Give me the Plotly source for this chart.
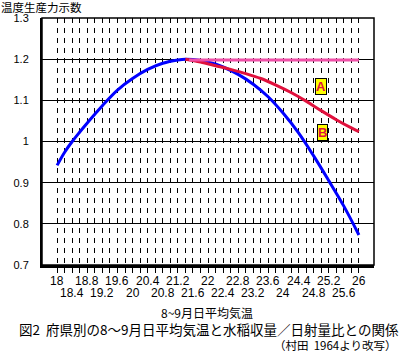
import plotly.graph_objects as go

# ---- data ----
blue_x = [18.0, 18.2, 18.4, 18.6, 18.8, 19.0, 19.2, 19.6, 20.0, 20.4, 20.8, 21.2, 21.4, 21.6,
          22.0, 22.4, 22.8, 23.2, 23.6, 24.0, 24.4, 24.8, 25.2, 25.6, 26.0]
blue_y = [0.942, 0.974, 1.000, 1.023, 1.045, 1.066, 1.087, 1.125, 1.153, 1.175, 1.190, 1.198, 1.200, 1.199,
          1.193, 1.181, 1.163, 1.139, 1.108, 1.068, 1.021, 0.965, 0.905, 0.843, 0.773]

red_x = [21.4, 21.8, 22.2, 22.6, 23.0, 23.4, 23.8, 24.2, 24.6, 25.0, 25.4, 25.8, 26.0]
red_y = [1.200, 1.193, 1.184, 1.175, 1.165, 1.153, 1.137, 1.119, 1.098, 1.075, 1.053, 1.033, 1.024]

pink_x = [21.5, 26.0]
pink_y = [1.198, 1.198]

label_A = ("A", 25.0, 1.134)
label_B = ("B", 25.03, 1.022)

grid_x = [round(18 + 0.2 * i, 1) for i in range(41)]
row1_labels = ["18", "18.8", "19.6", "20.4", "21.2", "22", "22.8", "23.6", "24.4", "25.2", "26"]
row2_labels = ["18.4", "19.2", "20", "20.8", "21.6", "22.4", "23.2", "24", "24.8", "25.6"]
y_ticks = [0.7, 0.8, 0.9, 1.0, 1.1, 1.2, 1.3]
y_ticktext = ["0.7", "0.8", "0.9", "1", "1.1", "1.2", "1.3"]

y_title = "温度生産力示数"
x_title = "8~9月日平均気温"
caption = "図2  府県別の8～9月日平均気温と水稲収量／日射量比との関係"
source = "（村田  1964より改写）"

JP = "Noto Sans CJK JP"
NUM = "Liberation Sans"

fig = go.Figure()
fig.add_trace(go.Scatter(x=blue_x, y=blue_y, mode="lines", line=dict(color="#0000FF", width=3), line_shape="spline"))
fig.add_trace(go.Scatter(x=red_x, y=red_y, mode="lines", line=dict(color="#E0103C", width=3), line_shape="spline"))
fig.add_trace(go.Scatter(x=pink_x, y=pink_y, mode="lines", line=dict(color="#F050A8", width=3)))

ann = []
for t in row1_labels:
    ann.append(dict(x=float(t), y=0, xref="x", yref="paper", text=t, showarrow=False,
                    yanchor="middle", yshift=-16, borderpad=0,
                    font=dict(family=NUM, size=12, color="black")))
for t in row2_labels:
    ann.append(dict(x=float(t), y=0, xref="x", yref="paper", text=t, showarrow=False,
                    yanchor="middle", yshift=-27.5, borderpad=0,
                    font=dict(family=NUM, size=12, color="black")))
for txt, lx, ly in (label_A, label_B):
    ann.append(dict(x=lx, y=ly, xref="x", yref="y", text="<b>" + txt + "</b>", showarrow=False,
                    bgcolor="#FFFF00", bordercolor="black", borderwidth=1, borderpad=0,
                    font=dict(family=NUM, size=13, color="#E0103C")))
ann.append(dict(x=0, y=1, xref="paper", yref="paper", text=y_title, showarrow=False,
                xanchor="left", yanchor="middle", xshift=-42, yshift=11.5, borderpad=0,
                font=dict(family=JP, size=11.5, color="black")))
ann.append(dict(x=0.497, y=0, xref="paper", yref="paper", text=x_title, showarrow=False,
                xanchor="center", yanchor="middle", yshift=-47.5, borderpad=0,
                font=dict(family=JP, size=12, color="black")))
ann.append(dict(x=0, y=0, xref="paper", yref="paper", text=caption, showarrow=False,
                xanchor="left", yanchor="middle", xshift=-24, yshift=-63.5, borderpad=0,
                font=dict(family=JP, size=13.5, color="black")))
ann.append(dict(x=0, y=0, xref="paper", yref="paper", text=source, showarrow=False,
                xanchor="left", yanchor="middle", xshift=231, yshift=-79.5, borderpad=0,
                font=dict(family=JP, size=11.5, color="black")))

fig.update_layout(
    width=404, height=358,
    margin=dict(l=42, r=30, t=18, b=93),
    paper_bgcolor="white", plot_bgcolor="white",
    showlegend=False,
    annotations=ann,
    shapes=[dict(type="rect", xref="paper", yref="paper", x0=0, y0=0, x1=1, y1=1,
                 line=dict(color="black", width=1.5), layer="above")],
    xaxis=dict(range=[17.6, 26.4], tickvals=grid_x, showticklabels=False,
               ticks="outside", ticklen=5, tickcolor="black", tickwidth=1,
               showgrid=True, gridcolor="black", gridwidth=1, griddash="5px,5px",
               showline=True, linecolor="black", linewidth=3, zeroline=False, fixedrange=True),
    yaxis=dict(range=[0.7, 1.3], tickvals=y_ticks, ticktext=y_ticktext,
               ticks="", ticklabelstandoff=9,
               tickfont=dict(family=NUM, size=11, color="black"),
               showgrid=True, gridcolor="black", gridwidth=1,
               showline=True, linecolor="black", linewidth=2, zeroline=False, fixedrange=True),
)

fig.write_html("out.html", post_script="document.body.style.margin='0';",
               config={"displayModeBar": False})
